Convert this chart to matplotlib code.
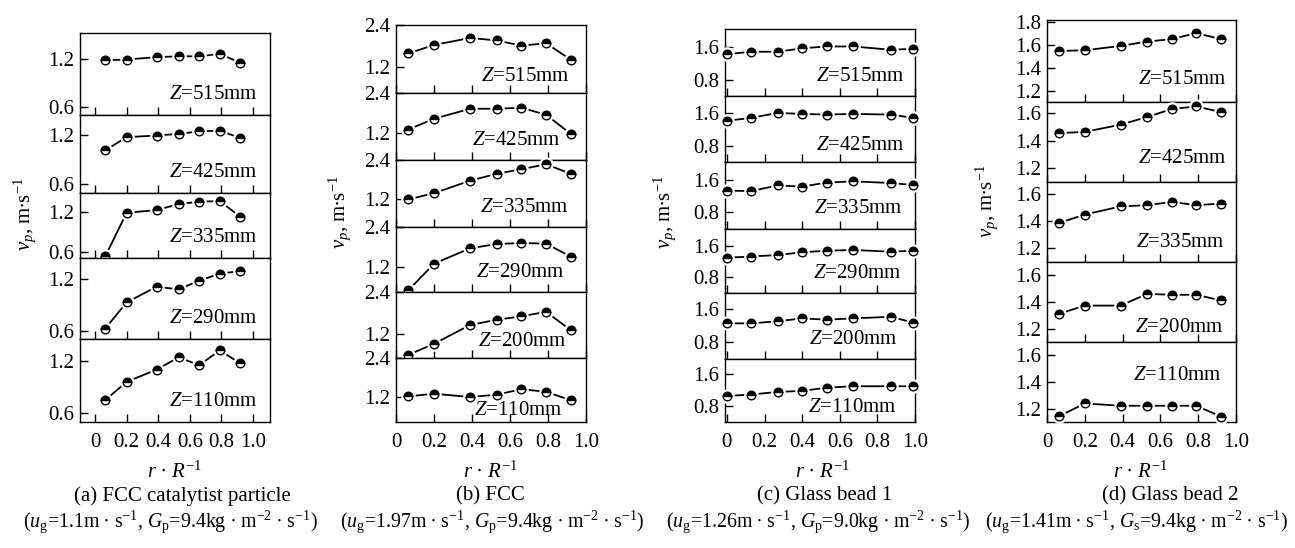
import matplotlib
matplotlib.use('Agg')
import matplotlib.pyplot as plt

plt.rcParams['font.family'] = ['Liberation Serif', 'DejaVu Serif']
plt.rcParams['mathtext.fontset'] = 'custom'
plt.rcParams['mathtext.rm'] = 'Liberation Serif'
plt.rcParams['mathtext.it'] = 'Liberation Serif:italic'
plt.rcParams['mathtext.bf'] = 'Liberation Serif:bold'

# ---------------- data ----------------
r_std = [0.065, 0.2, 0.39, 0.53, 0.66, 0.79, 0.92]
r_c = [0.0, 0.13, 0.27, 0.40, 0.53, 0.67, 0.87, 0.99]

z_a = ['515', '425', '335', '290', '110']
v_a = [
    [1.18, 1.19, 1.22, 1.23, 1.23, 1.26, 1.15],
    [1.01, 1.17, 1.19, 1.21, 1.24, 1.25, 1.16],
    [0.535, 1.185, 1.225, 1.315, 1.35, 1.36, 1.125],
    [0.63, 0.93, 1.11, 1.08, 1.18, 1.26, 1.29],
    [0.75, 0.96, 1.10, 1.24, 1.15, 1.32, 1.17],
]

z_b = ['515', '425', '335', '290', '200', '110']
v_b = [
    [1.59, 1.83, 2.03, 1.96, 1.81, 1.88, 1.41],
    [1.31, 1.63, 1.93, 1.93, 1.96, 1.75, 1.18],
    [1.20, 1.39, 1.77, 1.98, 2.12, 2.27, 1.98],
    [0.50, 1.30, 1.76, 1.89, 1.92, 1.90, 1.51],
    [0.59, 0.91, 1.45, 1.60, 1.70, 1.83, 1.30],
    [1.22, 1.30, 1.20, 1.27, 1.44, 1.36, 1.10],
]

z_c = ['515', '425', '335', '290', '200', '110']
v_c = [
    [1.43, 1.49, 1.49, 1.575, 1.62, 1.62, 1.54, 1.56],
    [1.41, 1.48, 1.60, 1.575, 1.56, 1.575, 1.56, 1.48],
    [1.33, 1.32, 1.46, 1.43, 1.53, 1.56, 1.52, 1.47],
    [1.29, 1.32, 1.36, 1.43, 1.47, 1.49, 1.445, 1.47],
    [1.25, 1.25, 1.30, 1.37, 1.34, 1.37, 1.41, 1.27],
    [1.045, 1.08, 1.145, 1.17, 1.25, 1.285, 1.285, 1.285],
]

z_d = ['515', '425', '335', '200', '110']
v_d = [
    [1.55, 1.556, 1.594, 1.632, 1.653, 1.706, 1.653],
    [1.455, 1.463, 1.516, 1.571, 1.629, 1.648, 1.607],
    [1.388, 1.45, 1.51, 1.519, 1.543, 1.519, 1.531],
    [1.312, 1.373, 1.373, 1.461, 1.454, 1.454, 1.412],
    [1.144, 1.239, 1.222, 1.222, 1.222, 1.222, 1.141],
]

xtick_vals = [0, 0.2, 0.4, 0.6, 0.8, 1.0]
xtick_labels = ['0', '0.2', '0.4', '0.6', '0.8', '1.0']

DOT = r'$\,\bullet\,$'
DOT_T = r'$\bullet$'
captions1 = ['(a) FCC catalytist particle', '(b) FCC', '(c) Glass bead 1', '(d) Glass bead 2']
captions2 = [
    r'($u_\mathrm{g}$=1.1m' + DOT + r's$^{-1}$, $G_\mathrm{p}$=9.4kg' + DOT + r'm$^{-2}$' + DOT + r's$^{-1}$)',
    r'($u_\mathrm{g}$=1.97m' + DOT + r's$^{-1}$, $G_\mathrm{p}$=9.4kg' + DOT + r'm$^{-2}$' + DOT + r's$^{-1}$)',
    r'($u_\mathrm{g}$=1.26m' + DOT + r's$^{-1}$, $G_\mathrm{p}$=9.0kg' + DOT + r'm$^{-2}$' + DOT + r's$^{-1}$)',
    r'($u_\mathrm{g}$=1.41m' + DOT + r's$^{-1}$, $G_\mathrm{s}$=9.4kg' + DOT + r'm$^{-2}$' + DOT + r's$^{-1}$)',
]

# ---------------- layout (pixels) ----------------
W, H = 1295, 548
FS = 15
FS_CAP = 14.3

columns = [
    dict(x=r_std, z=z_a, v=v_a, left=80, right=270,
         bounds=[33, 115, 193, 258, 339, 422],
         ylims=[(0.5, 1.52), (0.49, 1.44), (0.51, 1.48), (0.51, 1.44), (0.5, 1.45)],
         yticks=[[0.6, 1.2]] * 5, ylabs=[['0.6', '1.2']] * 5,
         xlim=(-0.095, 1.108),
         zoff=[(12, 16)] * 5,
         ylab_x=25, ylab_y=214, xlab_x=175, cap1_x=182, cap2_x=170),
    dict(x=r_std, z=z_b, v=v_b, left=396, right=586,
         bounds=[25, 93, 160, 227, 292, 358, 422],
         ylims=[(0.46, 2.4), (0.40, 2.4), (0.36, 2.4), (0.45, 2.4), (0.50, 2.4), (0.43, 2.4)],
         yticks=[[1.2, 2.4]] * 6, ylabs=[['1.2', '2.4']] * 6,
         xlim=(0.0, 1.0),
         zoff=[(16, 12), (25, 15), (17, 15), (21, 15), (19, 12), (23, 7)],
         ylab_x=340, ylab_y=212, xlab_x=491, cap1_x=490, cap2_x=492),
    dict(x=r_c, z=z_c, v=v_c, left=725, right=915,
         bounds=[29, 96, 162, 229, 293, 359, 422],
         ylims=[(0.40, 2.05), (0.41, 2.01), (0.38, 2.04), (0.38, 2.03), (0.38, 1.99), (0.40, 1.96)],
         yticks=[[0.8, 1.6]] * 6, ylabs=[['0.8', '1.6']] * 6,
         xlim=(-0.01, 1.0),
         zoff=[(10, 15), (10, 12), (12, 16), (13, 15), (17, 15), (18, 10)],
         ylab_x=665, ylab_y=212, xlab_x=823, cap1_x=825, cap2_x=818),
    dict(x=r_std, z=z_d, v=v_d, left=1047, right=1236,
         bounds=[20, 102, 182, 262, 342, 422],
         ylims=[(1.105, 1.82), (1.1, 1.68), (1.1, 1.69), (1.1, 1.70), (1.1, 1.70)],
         yticks=[[1.2, 1.4, 1.6, 1.8]] + [[1.2, 1.4, 1.6]] * 4,
         ylabs=[['1.2', '1.4', '1.6', '1.8']] + [['1.2', '1.4', '1.6']] * 4,
         xlim=(0.0, 1.0),
         zoff=[(9, 18), (9, 19), (11, 15), (12, 10), (14, 42)],
         ylab_x=987, ylab_y=201, xlab_x=1141, cap1_x=1170, cap2_x=1137),
]

fig = plt.figure(figsize=(W / 100, H / 100), dpi=100)
px2pt = 72 / 100.0

for col in columns:
    n = len(col['z'])
    for i in range(n):
        top, bot = col['bounds'][i], col['bounds'][i + 1]
        ax = fig.add_axes([col['left'] / W, 1 - bot / H,
                           (col['right'] - col['left']) / W, (bot - top) / H])
        ax.set_xlim(*col['xlim'])
        ax.set_ylim(*col['ylims'][i])
        for s in ax.spines.values():
            s.set_linewidth(1.0)
        ax.plot(col['x'], col['v'][i], color='black', lw=1.3, zorder=2, clip_on=False)
        ax.plot(col['x'], col['v'][i], ls='none', marker='o', ms=9.5,
                mfc='white', mec='white', zorder=3, clip_on=False)
        ax.plot(col['x'], col['v'][i], ls='none', marker='o', ms=6.2,
                fillstyle='top', mfc='black', mfcalt='white', mec='black',
                mew=1.0, zorder=4, clip_on=False)
        ax.set_yticks(col['yticks'][i])
        ax.set_yticklabels(col['ylabs'][i])
        ax.set_xticks(xtick_vals)
        if i == n - 1:
            ax.set_xticklabels(xtick_labels)
        else:
            ax.set_xticklabels([])
        ax.tick_params(axis='both', direction='in', length=6, width=1.0,
                       labelsize=FS, top=False, right=False)
        ax.tick_params(axis='y', pad=4)
        ax.tick_params(axis='x', pad=8)
        dx, dy = col['zoff'][i]
        ax.annotate(r'$Z$=' + col['z'][i] + 'mm', xy=(1, 0), xycoords='axes fraction',
                    xytext=(-dx * px2pt, dy * px2pt), textcoords='offset points',
                    ha='right', va='baseline', fontsize=FS)

    fig.text(col['ylab_x'] / W, 1 - col['ylab_y'] / H,
             r'$v_p$, m' + DOT_T + r's$^{-1}$', rotation=90, ha='center', va='center',
             fontsize=FS)
    fig.text(col['xlab_x'] / W, 1 - 472 / H, r'$r$' + DOT + r'$R^{-1}$',
             ha='center', va='center', fontsize=FS)

for k, col in enumerate(columns):
    fig.text(col['cap1_x'] / W, 1 - 496 / H, captions1[k], ha='center', va='center', fontsize=FS)
    fig.text(col['cap2_x'] / W, 1 - 522 / H, captions2[k], ha='center', va='center', fontsize=FS_CAP)

fig.savefig('out.png', dpi=100)
